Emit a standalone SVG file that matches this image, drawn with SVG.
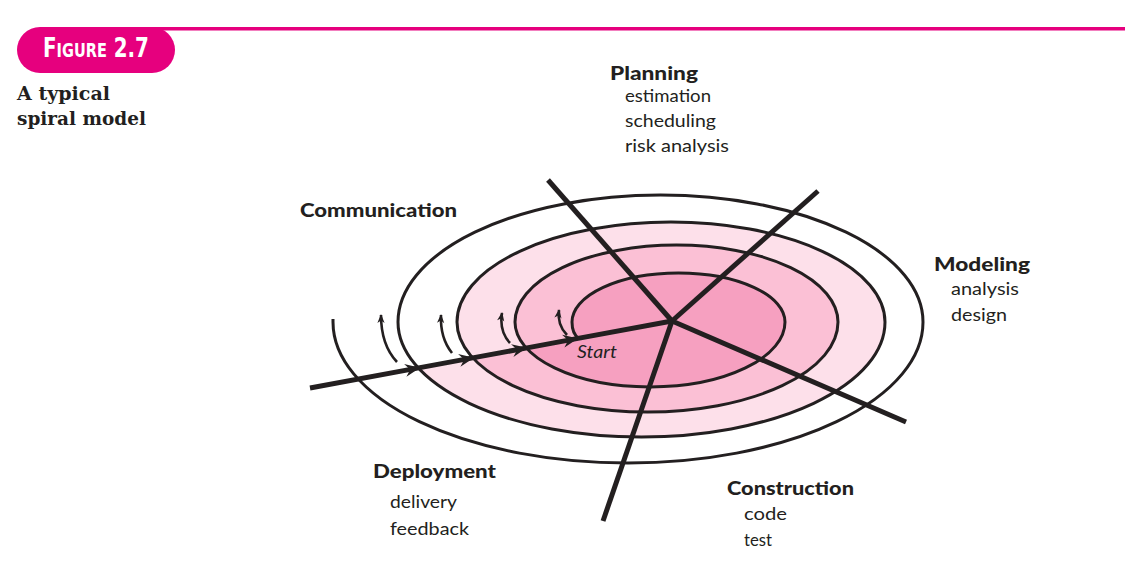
<svg xmlns="http://www.w3.org/2000/svg" width="1131" height="581" viewBox="0 0 1131 581">
  <defs>
    <style>
      .head { font-family: Lato, "Open Sans", "DejaVu Sans", sans-serif; font-weight: 900; font-size: 18.5px; fill: #231f20; }
      .item { font-family: Lato, "Open Sans", "DejaVu Sans", sans-serif; font-weight: 400; font-size: 18px; fill: #231f20; }
      .caption { font-family: "DejaVu Serif", "Liberation Serif", serif; font-weight: 700; font-size: 19px; fill: #231f20; }
      .fig { font-family: "DejaVu Sans Condensed", "DejaVu Sans", sans-serif; font-stretch: condensed; font-weight: 700; fill: #ffffff; }
      .spoke { stroke: #231f20; stroke-width: 5; fill: none; }
      .spiral { stroke: #231f20; stroke-width: 3; fill: none; }
      .turn { stroke: #231f20; stroke-width: 2.6; fill: none; }
    </style>
    <!-- arrowhead sitting on the entry axis at each turn -->
    <marker id="axisHead" markerUnits="userSpaceOnUse" orient="auto" markerWidth="20" markerHeight="16" refX="0" refY="0" viewBox="-16 -8 20 16" overflow="visible">
      <path d="M0,0 L-15,-6.5 L-10,0 L-15,6.5 Z" fill="#231f20"/>
    </marker>
    <!-- small head on the turn-continuation arrows -->
    <marker id="turnHead" markerUnits="userSpaceOnUse" orient="auto" markerWidth="12" markerHeight="10" refX="0" refY="0" viewBox="-10 -5 12 10" overflow="visible">
      <path d="M1,0 L-8,-3.6 L-5.5,0 L-8,3.6 Z" fill="#231f20"/>
    </marker>
  </defs>

  <rect x="0" y="0" width="1131" height="581" fill="#ffffff"/>

  <!-- figure tab and rule -->
  <g id="figure-label">
    <rect x="150" y="27" width="975" height="3.5" fill="#e6007e"/>
    <rect x="17" y="27" width="158" height="46" rx="23" ry="23" fill="#e6007e"/>
    <text class="fig" x="0" y="0" transform="translate(43,57) scale(0.85,1)"><tspan font-size="26">F</tspan><tspan font-size="19">IGURE</tspan><tspan font-size="26"> 2.7</tspan></text>
  </g>

  <g id="caption">
    <text class="caption" x="17" y="100" textLength="93" lengthAdjust="spacingAndGlyphs">A typical</text>
    <text class="caption" x="17" y="125" textLength="129" lengthAdjust="spacingAndGlyphs">spiral model</text>
  </g>

  <!-- shaded bands of the spiral, outermost first; each band closes along the entry axis -->
  <g id="spiral">
    <path d="M472.8,357.9 A190.5,90 0 0 1 457,322 A214,100 0 0 1 885,322 A243.5,115 0 0 1 418.3,367.95 Z" fill="#fde0ea"/>
    <path d="M526,347.7 A135,65 0 0 1 515,322 A161.5,77 0 0 1 838,322 A190.5,90 0 0 1 472.8,357.9 Z" fill="#fbc0d5"/>
    <path d="M579,338.2 Q572,334 572,322 A106.5,49 0 0 1 785,322 A135,65 0 0 1 526,347.7 Z" fill="#f6a0c0"/>
    <path class="spiral" d="M579,338.5 Q572,334 572,322 A106.5,49 0 0 1 785,322 A135,65 0 0 1 515,322 A161.5,77 0 0 1 838,322 A190.5,90 0 0 1 457,322 A214,100 0 0 1 885,322 A243.5,115 0 0 1 398,322 A262.5,127 0 0 1 923,322 A295,141 0 0 1 333,322 L333,319"/>
  </g>

  <g id="connectors">
    <!-- spokes dividing the activity sectors -->
    <line class="spoke" x1="548" y1="180" x2="672" y2="321"/>
    <line class="spoke" x1="672" y1="321" x2="818" y2="191"/>
    <line class="spoke" x1="672" y1="321" x2="906" y2="422"/>
    <line class="spoke" x1="672" y1="321" x2="603" y2="521"/>
    <!-- entry axis with a head at each turn -->
    <polyline class="spoke" points="310,388 420,367.64 474,357.65 527,347.84 578,338.4 672,321" marker-mid="url(#axisHead)"/>
    <!-- continuation arrows on the left of each turn -->
    <path class="turn" d="M397,362 Q381,345 381,315" marker-end="url(#turnHead)"/>
    <path class="turn" d="M452,353 Q440,338 441,315" marker-end="url(#turnHead)"/>
    <path class="turn" d="M510,343 Q499,331 502,313" marker-end="url(#turnHead)"/>
    <path class="turn" d="M567,335 Q557,325 559,310" marker-end="url(#turnHead)"/>
  </g>

  <g id="start">
    <text class="item" x="577" y="358" font-size="19" font-style="italic" textLength="40" lengthAdjust="spacingAndGlyphs">Start</text>
  </g>

  <g id="planning">
    <text class="head" x="610" y="80" textLength="88" lengthAdjust="spacingAndGlyphs">Planning</text>
    <text class="item" x="625" y="102" textLength="86" lengthAdjust="spacingAndGlyphs">estimation</text>
    <text class="item" x="625" y="127" textLength="91" lengthAdjust="spacingAndGlyphs">scheduling</text>
    <text class="item" x="625" y="152" textLength="104" lengthAdjust="spacingAndGlyphs">risk analysis</text>
  </g>

  <g id="communication">
    <text class="head" x="300" y="217" textLength="157" lengthAdjust="spacingAndGlyphs">Communication</text>
  </g>

  <g id="modeling">
    <text class="head" x="934" y="271" textLength="96" lengthAdjust="spacingAndGlyphs">Modeling</text>
    <text class="item" x="951" y="295" textLength="68" lengthAdjust="spacingAndGlyphs">analysis</text>
    <text class="item" x="951" y="321" textLength="56" lengthAdjust="spacingAndGlyphs">design</text>
  </g>

  <g id="construction">
    <text class="head" x="727" y="495" textLength="127" lengthAdjust="spacingAndGlyphs">Construction</text>
    <text class="item" x="744" y="520" textLength="43" lengthAdjust="spacingAndGlyphs">code</text>
    <text class="item" x="744" y="546" textLength="28" lengthAdjust="spacingAndGlyphs">test</text>
  </g>

  <g id="deployment">
    <text class="head" x="373" y="478" textLength="123" lengthAdjust="spacingAndGlyphs">Deployment</text>
    <text class="item" x="390" y="508" textLength="67" lengthAdjust="spacingAndGlyphs">delivery</text>
    <text class="item" x="390" y="535" textLength="79" lengthAdjust="spacingAndGlyphs">feedback</text>
  </g>
</svg>
